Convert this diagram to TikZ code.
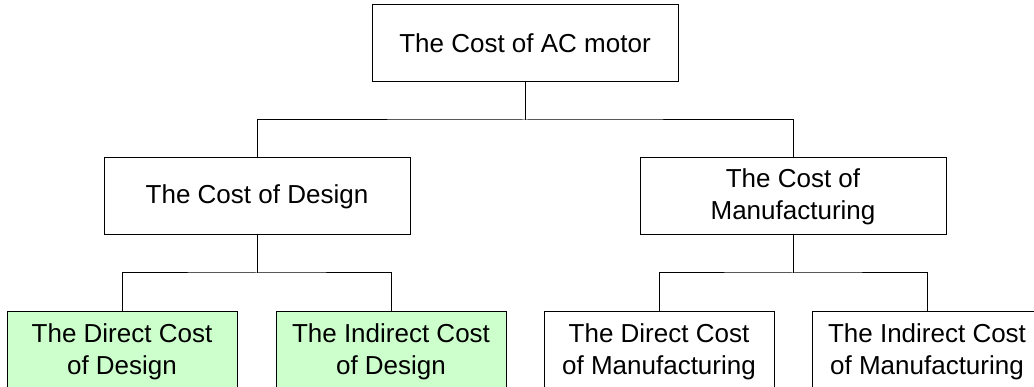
\documentclass[tikz,border=0pt]{standalone}
\usepackage{fontspec}
\setmainfont{Liberation Sans}
\definecolor{leafgreen}{HTML}{CCFFCC}
\begin{document}
\begin{tikzpicture}[x=1pt,y=-1pt,
  every node/.style={font=\fontsize{26}{32}\selectfont, align=center, inner sep=0pt},
  costbox/.style={draw=black, line width=1pt, fill=white, rectangle,
                  minimum width=306pt, minimum height=77pt},
  leafbox/.style={draw=black, line width=1pt, fill=white, rectangle,
                  minimum width=230pt, minimum height=80pt},
  greenleaf/.style={leafbox, fill=leafgreen},
  link/.style={draw=black, line width=1pt}]
  \clip (0,0) rectangle (1034,387);

  % root
  \node[costbox] (root) at (525,43.5) {The Cost of AC motor};

  % second level
  \node[costbox] (design) at (257,196.5) {The Cost of Design};
  \node[costbox] (manuf) at (793,196.5) {The Cost of\\Manufacturing};

  % leaves
  \node[greenleaf] (ddesign) at (122,352) {The Direct Cost\\of Design};
  \node[greenleaf] (idesign) at (391,352) {The Indirect Cost\\of Design};
  \node[leafbox] (dmanuf) at (659,352) {The Direct Cost\\of Manufacturing};
  \node[leafbox] (imanuf) at (927,352) {The Indirect Cost\\of Manufacturing};

  % junctions of the tree
  \coordinate (jroot) at (525,120);
  \coordinate (jdesign) at (257,273);
  \coordinate (jmanuf) at (793,273);

  \path[link] (root.south) -- (jroot);
  \path[link] (design.north) |- (jroot) -| (manuf.north);
  \path[link] (design.south) -- (jdesign);
  \path[link] (ddesign.north) |- (jdesign) -| (idesign.north);
  \path[link] (manuf.south) -- (jmanuf);
  \path[link] (dmanuf.north) |- (jmanuf) -| (imanuf.north);
\end{tikzpicture}
\end{document}
